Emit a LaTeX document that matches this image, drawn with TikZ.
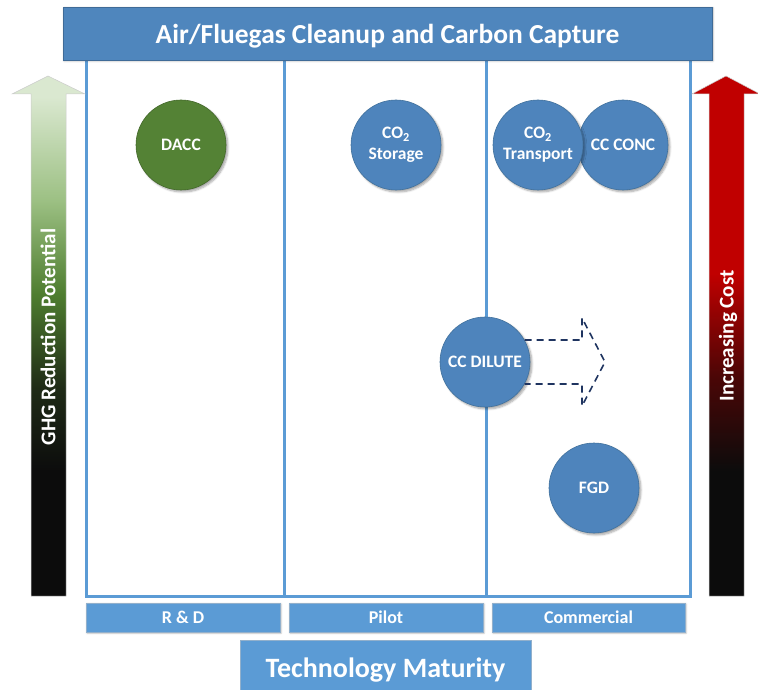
\documentclass[tikz,border=0pt]{standalone}
\usepackage{fontspec}
\setmainfont{Carlito}
\usetikzlibrary{shadows.blur}
\definecolor{barblue}{HTML}{4F86BD}
\definecolor{lightblue}{HTML}{5B9BD5}
\definecolor{circblue}{HTML}{4E84BC}
\definecolor{circedge}{HTML}{41719C}
\definecolor{dgreen}{HTML}{548235}
\definecolor{navy}{HTML}{1F3460}
\definecolor{gA}{HTML}{0C0C0C}
\definecolor{gB}{HTML}{1F2B16}
\definecolor{gC}{HTML}{4E7D2F}
\definecolor{gD}{HTML}{9CC083}
\definecolor{gE}{HTML}{DAE8D0}
\definecolor{rA}{HTML}{0C0C0C}
\definecolor{rB}{HTML}{4A0606}
\definecolor{rC}{HTML}{C00000}
\pgfdeclareverticalshading{ghgshade}{100bp}{color(0bp)=(gA); color(37bp)=(gA); color(45bp)=(gB); color(54bp)=(gC); color(63bp)=(gD); color(73bp)=(gE); color(100bp)=(gE)}
\pgfdeclareverticalshading{costshade}{100bp}{color(0bp)=(rA); color(37bp)=(rA); color(46bp)=(rB); color(56bp)=(rC); color(100bp)=(rC)}
\tikzset{
  bub/.style={circle, minimum size=90pt, inner sep=0pt, fill=circblue, draw=circedge, line width=0.6pt, text=white, font=\bfseries\fontsize{17.5}{21}\selectfont, align=center, blur shadow={shadow xshift=2pt, shadow yshift=-2pt, shadow blur steps=6, shadow opacity=35}},
  catbox/.style={rectangle, fill=lightblue, draw=lightblue!80!black!60!white, line width=0.4pt, text=white, font=\bfseries\fontsize{18}{18}\selectfont, minimum height=29pt, inner sep=0pt, blur shadow={shadow xshift=1pt, shadow yshift=-1pt, shadow blur steps=4, shadow opacity=25}},
  panel/.style={draw=lightblue, line width=3pt},
  sidelabel/.style={text=white, font=\bfseries\fontsize{21}{21}\selectfont, rotate=90},
}
\begin{document}
\begin{tikzpicture}[x=1pt,y=-1pt]
\useasboundingbox (0,0) rectangle (758,690);
% panels
\draw[panel] (86,60) -- (86,596) -- (690,596) -- (690,60);
\draw[panel] (284,60) -- (284,596);
\draw[panel] (486,60) -- (486,596);
% title bar
\node[rectangle, fill=barblue, draw=barblue!80!black, line width=0.5pt, minimum width=649pt, minimum height=53pt, inner sep=0pt, text=white, font=\bfseries\fontsize{27.5}{28}\selectfont, blur shadow={shadow xshift=1pt, shadow yshift=-1pt, shadow blur steps=4, shadow opacity=30}] (title) at (387.5,33.5) {};
\node[text=white, font=\bfseries\fontsize{27.5}{28}\selectfont, inner sep=0pt] (titletext) at (387.5,36) {Air/Fluegas Cleanup and Carbon Capture};
% side arrows
\shade[shading=ghgshade, draw=gray!40, line width=0.5pt] (31,596) -- (31,94) -- (12,94) -- (48,76) -- (85,94) -- (66,94) -- (66,596) -- cycle;
\node[sidelabel] (ghg) at (48,337) {GHG Reduction Potential};
\shade[shading=costshade, draw=gray!40, line width=0.5pt] (709,596) -- (709,94) -- (692,94) -- (726,76) -- (760,94) -- (744,94) -- (744,596) -- cycle;
\node[sidelabel] (cost) at (728,336) {Increasing Cost};
% category boxes
\node[catbox, minimum width=194pt] (rd) at (183,617.5) {R \& D};
\node[catbox, minimum width=194pt] (pilot) at (386,617.5) {Pilot};
\node[catbox, minimum width=193pt] (comm) at (588.5,617.5) {Commercial};
\node[rectangle, fill=lightblue, draw=lightblue!80!black!60!white, line width=0.4pt, minimum width=291pt, minimum height=54pt, inner sep=0pt] (tm) at (385.5,667) {};
\node[text=white, font=\bfseries\fontsize{28}{28}\selectfont, inner sep=0pt] (tmtext) at (385.5,670) {Technology Maturity};
% bubbles
\node[bub, fill=dgreen, draw=dgreen!80!black] (dacc) at (181,145) {DACC};
\node[bub] (stor) at (396,145) {CO\textsubscript{2}\\Storage};
\node[bub] (conc) at (623,145) {CC CONC};
\node[bub] (trans) at (538,145) {CO\textsubscript{2}\\Transport};
\node[bub] (dil) at (485,362) {CC DILUTE};
\node[bub] (fgd) at (594,488) {FGD};
% dashed arrow
\coordinate (a1) at (dil.29);
\coordinate (a2) at (dil.-29);
\draw[navy, line width=1.6pt, dash pattern=on 7pt off 5pt] (a1) -- (582,340) -- (582,318) -- (605,362) -- (582,406) -- (582,384) -- (a2);
\end{tikzpicture}
\end{document}
